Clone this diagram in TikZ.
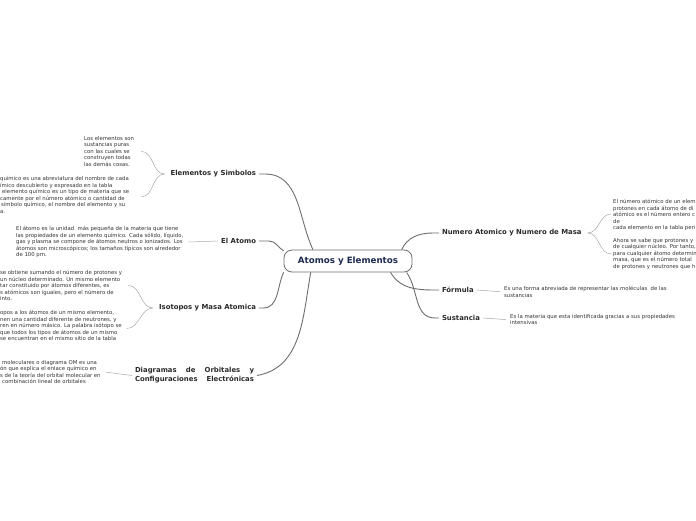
\documentclass[tikz,border=0pt]{standalone}
\usepackage{fontspec}
\setmainfont{DejaVu Sans}
\definecolor{rootink}{HTML}{1B2A4E}
\definecolor{topicink}{HTML}{2B2B2B}
\definecolor{leafink}{HTML}{333333}
\definecolor{branchgray}{HTML}{6E6E6E}
\definecolor{twiggray}{HTML}{A8A8A8}
\tikzset{
  rootbox/.style={draw=branchgray, line width=0.8pt, rounded corners=8pt, fill=white,
    minimum width=128pt, minimum height=22pt, inner sep=0pt,
    font=\bfseries\fontsize{8.7}{10}\selectfont, text=rootink},
  topic/.style={font=\bfseries\fontsize{6.9}{9}\selectfont, text=topicink, inner sep=0pt, outer sep=3pt},
  leaf/.style={font=\fontsize{5.35}{6.55}\selectfont, text=leafink, align=left, inner sep=0pt, anchor=north west},
  branch/.style={draw=branchgray, line width=0.9pt},
  twig/.style={draw=twiggray, line width=0.5pt},
}
\begin{document}
\begin{tikzpicture}[x=1pt,y=-1pt]
  \useasboundingbox (0,0) rectangle (696,520);
  \clip (0,0) rectangle (696,520);
  \fill[white] (0,0) rectangle (696,520);

  % centre
  \node[rootbox] (root) at (348,261) {Atomos y Elementos};

  % left topics
  \node[topic, anchor=east] (elem) at (259,174) {Elementos y Simbolos};
  \node[topic, anchor=east] (atom) at (259,241) {El Atomo};
  \node[topic, anchor=east] (iso) at (259,308) {Isotopos y Masa Atomica};
  \node[topic, anchor=east, align=left] (diag) at (257,375.5)
    {\makebox[119pt][s]{Diagramas de Orbitales y}\\\makebox[119pt][s]{Configuraciones Electrónicas}};

  % right topics
  \node[topic, anchor=west] (num) at (439,233) {Numero Atomico y Numero de Masa};
  \node[topic, anchor=west] (form) at (439,290) {Fórmula};
  \node[topic, anchor=west] (sust) at (439,318) {Sustancia};

  % leaves
  \node[leaf] (elemA) at (84,136) {Los elementos son\\sustancias puras\\con las cuales se\\construyen todas\\las demás cosas.};
  \node[leaf] (elemB) at (0,176) {químico es una abreviatura del nombre de cada\\ímico descubierto y expresado en la tabla\\\hspace*{2pt}elemento químico es un tipo de materia que se\\camente por el número atómico o cantidad de\\\hspace*{1pt}símbolo químico, el nombre del elemento y su\\a.};
  \node[leaf] (atomA) at (16,226) {El átomo es la unidad\ \ más pequeña de la materia que tiene\\las propiedades de un elemento químico. Cada sólido, líquido,\\gas y plasma se compone de átomos neutros o ionizados. Los\\átomos son microscópicos; los tamaños típicos son alrededor\\de 100 pm.};
  \node[leaf] (isoA) at (0,270) {se obtiene sumando el número de protones y\\un núcleo determinado. Un mismo elemento\\tar constituido por átomos diferentes, es\\s atómicos son iguales, pero el número de\\into.};
  \node[leaf] (isoB) at (0,310) {opos a los átomos de un mismo elemento,\\nen una cantidad diferente de neutrones, y\\ren en número másico. La palabra isótopo se\\que todos los tipos de átomos de un mismo\\se encuentran en el mismo sitio de la tabla};
  \node[leaf] (diagA) at (0,360) {\hspace*{2pt}moleculares o diagrama OM es una\\ón que explica el enlace químico en\\s de la teoría del orbital molecular en\\\hspace*{2pt}combinación lineal de orbitales};
  \node[leaf] (numA) at (613,199) {El número atómico de un elem\\protones en cada átomo de di\\atómico es el número entero c\\de\\cada elemento en la tabla peri};
  \node[leaf] (numB) at (613,238) {Ahora se sabe que protones y\\de cualquier núcleo. Por tanto,\\para cualquier átomo determin\\masa, que es el número total\\de protones y neutrones que h};
  \node[leaf] (formA) at (504,286) {Es una forma abreviada de representar las moléculas\ \ de las\\sustancias};
  \node[leaf] (sustA) at (510,314) {Es la materia que esta identificada gracias a sus propiedades\\intensivas};

  % branches
  \draw[branch] (elem.east) -- ++(6,0) to[out=0,in=115] (root.162);
  \draw[branch] (atom.east) -- ++(10,0) to[out=0,in=150] (root.171);
  \draw[branch] (iso.east) -- ++(4,0) to[out=0,in=-115] (root.190);
  \draw[branch] (diag.east) to[out=10,in=-100] (root.197);
  \draw[branch] (num.west) -- ++(-6,0) to[out=180,in=65] (root.12);
  \draw[branch] (form.west) -- ++(-4,0) to[out=180,in=-60] (root.345);
  \draw[branch] (sust.west) -- ++(-4,0) to[out=180,in=-55] (root.349);

  % twigs
  \draw[twig] ([xshift=-3pt]elem.west) to[out=180,in=0] ([xshift=7pt]elemA.east);
  \draw[twig] ([xshift=-3pt]elem.west) to[out=180,in=0] ([xshift=12pt,yshift=-2pt]elemB.east);
  \draw[twig] (atom.west) -- ([xshift=5pt]atomA.east);
  \draw[twig] ([xshift=-3pt]iso.west) to[out=180,in=0] ([xshift=6pt]isoA.east);
  \draw[twig] ([xshift=-3pt]iso.west) to[out=180,in=0] ([xshift=5pt,yshift=-3pt]isoB.east);
  \draw[twig] (diag.west) -- ([xshift=5pt]diagA.east);
  \draw[twig] ([xshift=3pt]num.east) to[out=0,in=180] ([xshift=-2pt,yshift=1pt]numA.west);
  \draw[twig] ([xshift=3pt]num.east) to[out=0,in=180] ([xshift=-2pt]numB.west);
  \draw[twig] (form.east) -- ([xshift=-4pt]formA.west);
  \draw[twig] (sust.east) -- ([xshift=-4pt]sustA.west);
\end{tikzpicture}
\end{document}
